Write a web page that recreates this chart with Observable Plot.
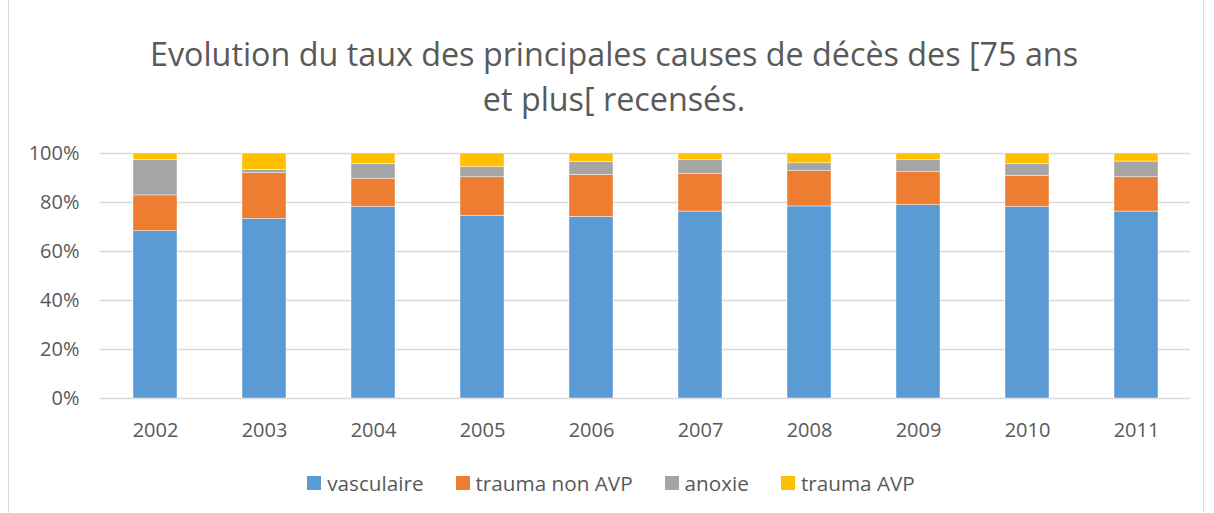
<!DOCTYPE html>
<html>
<head>
<meta charset="utf-8">
<script src="https://cdn.jsdelivr.net/npm/d3@7"></script>
<script src="https://cdn.jsdelivr.net/npm/@observablehq/plot@0.6"></script>
<style>
  html, body { margin: 0; padding: 0; background: #fff; }
  #wrap { position: relative; width: 1214px; height: 513px; overflow: hidden; font-family: "Open Sans", sans-serif; color: #595959; }
  #frame { position: absolute; left: 8px; top: -2px; width: 1196px; height: 520px; border: 1px solid #d9d9d9; box-sizing: border-box; }
  #title { position: absolute; left: 0; top: 31px; width: 1228px; text-align: center; font-size: 32.3px; line-height: 45px; color: #595959; }
  #chart { position: absolute; left: 0; top: 135px; }
  #legend { position: absolute; left: 4px; top: 469px; width: 1214px; display: flex; justify-content: center; font-size: 20.7px; color: #595959; }
  .item { display: flex; align-items: center; margin: 0 16px; }
  .sw { width: 14px; height: 14px; margin-right: 6px; }
</style>
</head>
<body>
<div id="wrap">
  <div id="frame"></div>
  <div id="title">Evolution du taux des principales causes de décès des [75 ans<br>et plus[ recensés.</div>
  <div id="chart"></div>
  <div id="legend"></div>
</div>
<script>
const years = ["2002","2003","2004","2005","2006","2007","2008","2009","2010","2011"];
const causes = ["vasculaire","trauma non AVP","anoxie","trauma AVP"];
const colors = ["#5b9bd5","#ed7d31","#a5a5a5","#ffc000"];
const vasculaire   = [68.3, 73.3, 78.2, 74.6, 74.1, 76.3, 78.4, 78.9, 78.2, 76.3];
const traumaNonAVP = [14.6, 18.7, 11.5, 15.7, 17.2, 15.3, 14.4, 13.5, 12.7, 14.0];
const anoxie       = [14.5,  1.3,  6.1,  4.1,  5.2,  5.7,  3.2,  4.9,  4.7,  6.4];
const traumaAVP    = [ 2.6,  6.7,  4.2,  5.6,  3.5,  2.7,  4.0,  2.7,  4.4,  3.3];
const yTicks = [0, 0.2, 0.4, 0.6, 0.8, 1.0];

const series = [vasculaire, traumaNonAVP, anoxie, traumaAVP];
const data = [];
causes.forEach((c, i) => years.forEach((y, j) => data.push({year: y, cause: c, value: series[i][j] / 100})));

const plot = Plot.plot({
  width: 1214,
  height: 320,
  marginLeft: 100,
  marginRight: 24,
  marginTop: 18,
  marginBottom: 57,
  style: {fontFamily: "'Open Sans', sans-serif", fontSize: "20px", color: "#595959", background: "transparent"},
  x: {domain: years, paddingInner: 0.6, paddingOuter: 0.3, label: null, tickSize: 0, tickPadding: 24},
  y: {domain: [0, 1], ticks: yTicks, tickFormat: d3.format(".0%"), label: null, tickSize: 0, tickPadding: 21},
  color: {domain: causes, range: colors},
  marks: [
    Plot.ruleY(yTicks, {stroke: "#d9d9d9", strokeWidth: 1.5}),
    Plot.barY(data, {x: "year", y: "value", fill: "cause", z: "cause", order: causes, stroke: "#ffffff", strokeWidth: 0.6, strokeOpacity: 0.7})
  ]
});
document.getElementById("chart").appendChild(plot);

const leg = document.getElementById("legend");
causes.forEach((c, i) => {
  const it = document.createElement("div");
  it.className = "item";
  it.innerHTML = `<span class="sw" style="background:${colors[i]}"></span><span>${c}</span>`;
  leg.appendChild(it);
});
</script>
</body>
</html>
